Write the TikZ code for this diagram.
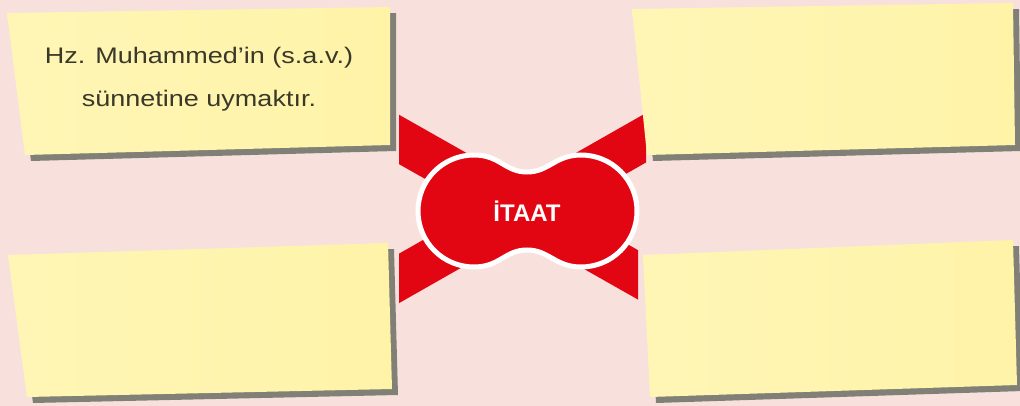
\documentclass[tikz,border=0pt]{standalone}
\usepackage{fontspec}
\setmainfont{Liberation Sans}
\newfontfamily\notefont[FakeStretch=1.2]{Liberation Sans}
\definecolor{bgpink}{RGB}{248,225,221}
\definecolor{noteleft}{RGB}{255,246,182}
\definecolor{noteright}{RGB}{255,243,168}
\definecolor{shade}{RGB}{128,128,118}
\definecolor{xred}{RGB}{226,6,19}
\definecolor{txt}{RGB}{58,56,40}
\newcommand\NoteBox[4]{%
  \fill[notesh] ([shift={(6,6)}]#1) -- ([shift={(6,6)}]#2) -- ([shift={(6,6)}]#3) -- ([shift={(6,6)}]#4) -- cycle;
  \shade[notebox] (#1) -- (#2) -- (#3) -- (#4) -- cycle;}
\begin{document}
\begin{tikzpicture}[x=1pt,y=-1pt,
  notebox/.style={left color=noteleft,right color=noteright},
  notesh/.style={fill=shade},
  band/.style={draw=xred,line width=43pt},
  peanut/.style={fill=xred,draw=white,line width=5pt},
  notetext/.style={text=txt,align=center,font=\notefont\fontsize{22.5}{43}\selectfont},
  centertext/.style={text=white,font=\bfseries\fontsize{24}{28}\selectfont}]
\fill[bgpink] (0,0) rectangle (1020,406);
\useasboundingbox (0,0) rectangle (1020,406);
% red X
\begin{scope}
  \clip (399,0) rectangle (646,210);
  \draw[band] (340,106) -- (700,310);
  \draw[band] (340,312) -- (700,107);
\end{scope}
\begin{scope}
  \clip (399,210) rectangle (638,406);
  \draw[band] (340,106) -- (700,310);
  \draw[band] (340,312) -- (700,107);
\end{scope}
% central shape
\path[peanut] (527,172) .. controls (505,172) and (500,155) .. (474,155)
  .. controls (443,155) and (418,180) .. (418,211)
  .. controls (418,242) and (443,267) .. (474,267)
  .. controls (500,267) and (505,250) .. (527,250)
  .. controls (549,250) and (555,267) .. (581,267)
  .. controls (612,267) and (637,242) .. (637,211)
  .. controls (637,180) and (612,155) .. (581,155)
  .. controls (555,155) and (549,172) .. (527,172) -- cycle;
\node[centertext] (itaat) at (527,211) {İTAAT};
% note boxes
\NoteBox{7,13}{390,7}{390,145}{25,155}
\NoteBox{632,9}{1013,3}{1015,145}{647,155}
\NoteBox{8,255}{388,243}{392,389}{27,397}
\NoteBox{643,255}{1013,240}{1017,385}{650,397}
\node[notetext] (t1) at (199,79) {Hz. Muhammed’in (s.a.v.)\\sünnetine uymaktır.};
\end{tikzpicture}
\end{document}
